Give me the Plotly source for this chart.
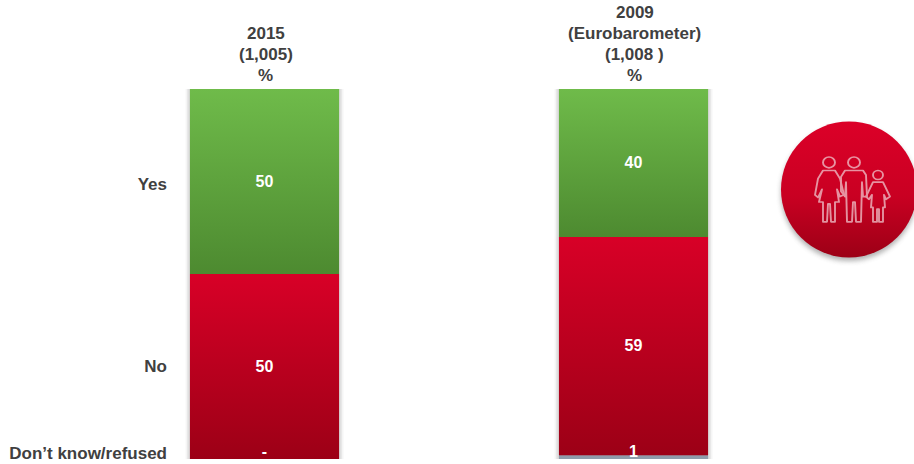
import base64
import plotly.graph_objects as go

columns = [["2015", "(1,005)", "%"], ["2009", "(Eurobarometer)", "(1,008 )", "%"]]
responses = ["Don’t know/refused", "No", "Yes"]
dont_know = [0, 1]
no = [50, 59]
yes = [50, 40]
dk_labels = ["-", "1"]
row_label_values = [1.6, 25.1, 74.3]

FONT = "Liberation Sans"
TEXT = "#404040"
BAR_W = 0.404
x_pos = [0, 1]

series = [
    ("Don’t know/refused", dont_know, "#8f9caa", "#8f9caa", "#8f9caa"),
    ("No", no, "#d00224", "#d80027", "#9c0016"),
    ("Yes", yes, "#5e9f3c", "#6fbb4a", "#4d8a30"),
]

fig = go.Figure()
base = [0, 0]
bands = []
for name, vals, solid, top, bottom in series:
    fig.add_bar(x=x_pos, y=vals, base=base, width=BAR_W, name=name,
                marker=dict(color=solid, line_width=0), hoverinfo="x+y")
    bands.append((name, vals, list(base), top, bottom))
    base = [b + v for b, v in zip(base, vals)]

for name, vals, lows, top, bottom in bands:
    for xc, v, lo in zip(x_pos, vals, lows):
        if v <= 0:
            continue
        l, r = xc - BAR_W / 2, xc + BAR_W / 2
        fig.add_scatter(
            x=[l, r, r, l, l], y=[lo, lo, lo + v, lo + v, lo],
            mode="lines", line_width=0, fill="toself", hoverinfo="skip",
            fillgradient=dict(type="vertical",
                              colorscale=[[0, bottom], [1, top]]),
        )

shapes = []
for xc in x_pos:
    for pad, alpha in [(0.012, 0.06), (0.008, 0.08), (0.004, 0.10)]:
        shapes.append(dict(type="rect", layer="below", xref="x", yref="y",
                           x0=xc - BAR_W / 2 - pad, x1=xc + BAR_W / 2 + pad,
                           y0=0, y1=100, line_width=0,
                           fillcolor=f"rgba(90,90,90,{alpha})"))

for name, vals, lows, top, bottom in bands:
    xs, ys, ts = [], [], []
    for i, (xc, v, lo) in enumerate(zip(x_pos, vals, lows)):
        if name.startswith("Don"):
            xs.append(xc); ys.append(1.7); ts.append(dk_labels[i])
        else:
            xs.append(xc); ys.append(lo + v / 2 - 0.3); ts.append(str(v))
    fig.add_scatter(x=xs, y=ys, text=ts, mode="text", hoverinfo="skip",
                    textfont=dict(family=FONT, size=16, color="white", weight="bold"),
                    textposition="middle center")

annotations = []
for xc, lines in zip(x_pos, columns):
    for j, line in enumerate(reversed(lines)):
        annotations.append(dict(x=xc, y=100, xref="x", yref="y", text=f"<b>{line}</b>",
                                showarrow=False, xanchor="center", yanchor="bottom",
                                xshift=1, yshift=2 + 21 * j,
                                font=dict(family=FONT, size=17, color=TEXT)))

icon_svg = """<svg xmlns='http://www.w3.org/2000/svg' width='160' height='160' viewBox='0 0 160 160'>
<defs><linearGradient id='g' x1='0' y1='0' x2='0' y2='1'><stop offset='0' stop-color='#dc0028'/><stop offset='0.55' stop-color='#c90022'/><stop offset='1' stop-color='#9c0016'/></linearGradient>
<filter id='s' x='-20%' y='-20%' width='140%' height='140%'><feGaussianBlur stdDeviation='2.5'/></filter>
<filter id='b' x='-10%' y='-10%' width='120%' height='120%'><feGaussianBlur stdDeviation='0.4'/></filter></defs>
<circle cx='80' cy='84' r='68' fill='#555' opacity='0.45' filter='url(#s)'/>
<circle cx='80' cy='80.5' r='68' fill='url(#g)'/>
<g transform='translate(0 4.8) scale(1 0.9)' fill='none' stroke='#f0c4cc' stroke-width='1.9' stroke-linejoin='round' stroke-linecap='round' opacity='0.75' filter='url(#b)'>
<circle cx='60' cy='54' r='6'/><circle cx='85' cy='54' r='6'/><circle cx='109' cy='68' r='5'/>
<path d='M54 63 L66 63 L71 72 L75 90 L71 92 L68 84 L70 98 L66 98 L66 120 L62 120 L61 100 L59 100 L58 120 L54 120 L54 98 L50 98 L53 84 L49 93 L46 90 L49 72 Z'/>
<path d='M76 63 L94 63 L97 68 L98 92 L94 92 L93 76 L92 120 L87 120 L86 98 L84 98 L83 120 L78 120 L77 76 L76 92 L72 86 L72 70 Z'/>
<path d='M104 76 L114 76 L121 92 L117 95 L115 90 L116 104 L114 104 L114 120 L110 120 L110 106 L108 106 L108 120 L104 120 L104 104 L102 104 L103 90 L100 95 L97 92 Z'/>
</g></svg>"""
icon_src = "data:image/svg+xml;base64," + base64.b64encode(icon_svg.encode()).decode()

fig.update_layout(
    width=914, height=464, autosize=False,
    margin=dict(l=172, r=96, t=89, b=5, autoexpand=False),
    paper_bgcolor="white", plot_bgcolor="white",
    barmode="overlay", showlegend=False, shapes=shapes, annotations=annotations,
    font=dict(family=FONT, size=17, color=TEXT),
    xaxis=dict(range=[-0.2507, 1.5], visible=False, fixedrange=True),
    yaxis=dict(range=[0, 100], tickvals=row_label_values,
               ticktext=[f"<b>{r}</b>" for r in responses], ticklabelstandoff=4,
               showgrid=False, zeroline=False, showline=False, ticks="", ticklen=0,
               tickfont=dict(family=FONT, size=17, color=TEXT), fixedrange=True),
    images=[dict(source=icon_src, xref="paper", yref="paper", x=(769 - 172) / 646, y=(464 - 5 - 109) / 370,
                 sizex=160 / 646, sizey=160 / 370, xanchor="left", yanchor="top", layer="above",
                 sizing="stretch")],
)

fig.write_html("out.html", config=dict(displayModeBar=False),
               post_script="document.body.style.margin='0';")
